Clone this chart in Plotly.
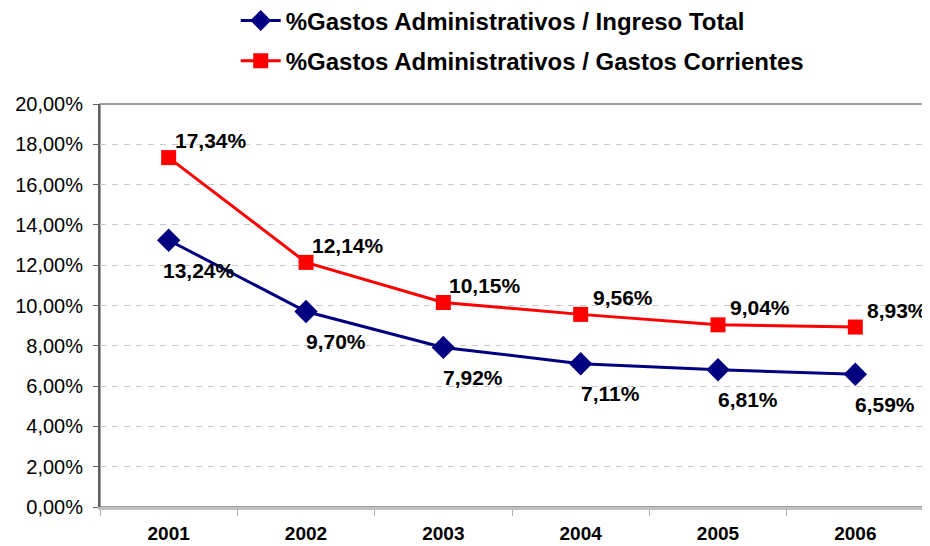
import plotly.graph_objects as go

years = ["2001", "2002", "2003", "2004", "2005", "2006"]
ingreso_total = [13.24, 9.70, 7.92, 7.11, 6.81, 6.59]
gastos_corrientes = [17.34, 12.14, 10.15, 9.56, 9.04, 8.93]
name_blue = "%Gastos Administrativos / Ingreso Total"
name_red = "%Gastos Administrativos / Gastos Corrientes"
y_ticks = [0, 2, 4, 6, 8, 10, 12, 14, 16, 18, 20]
y_tick_labels = ["0,00%", "2,00%", "4,00%", "6,00%", "8,00%", "10,00%",
                 "12,00%", "14,00%", "16,00%", "18,00%", "20,00%"]

FONT = "Liberation Sans, Arial, sans-serif"

def fmt(v):
    return f"{v:.2f}".replace(".", ",") + "%"

fig = go.Figure()
fig.add_trace(go.Scatter(
    x=years, y=ingreso_total, name=name_blue, mode="lines+markers",
    line=dict(color="#000080", width=3),
    marker=dict(symbol="diamond", size=18, color="#000080"),
    legendgroup="a",
))
fig.add_trace(go.Scatter(
    x=years, y=gastos_corrientes, name=name_red, mode="lines+markers",
    line=dict(color="#FF0000", width=3),
    marker=dict(symbol="square", size=15, color="#FF0000"),
    legendgroup="b",
))

label_font = dict(family=FONT, size=21, color="black", weight="bold")
for i, v in enumerate(gastos_corrientes):
    fig.add_annotation(x=i, y=v, text=fmt(v), showarrow=False,
                       xshift=42, yshift=17, font=label_font)
for i, v in enumerate(ingreso_total):
    fig.add_annotation(x=i, y=v, text=fmt(v), showarrow=False,
                       xshift=30, yshift=-30, font=label_font)

# plot frame
fig.add_shape(type="rect", xref="paper", yref="paper", x0=0, y0=0, x1=1, y1=1,
              line=dict(color="#808080", width=1.5), layer="below")

fig.update_layout(
    width=922, height=538,
    margin=dict(l=92, r=6, t=96, b=39, autoexpand=False),
    paper_bgcolor="white", plot_bgcolor="white",
    font=dict(family=FONT, size=19, color="black"),
    showlegend=True,
    legend=dict(
        xref="container", yref="paper",
        x=0.247, y=1.262, xanchor="left", yanchor="top",
        font=dict(family=FONT, size=24, color="black", weight="bold"),
        tracegroupgap=6, bgcolor="rgba(0,0,0,0)",
        itemwidth=40,
    ),
    xaxis=dict(
        type="category", tickson="boundaries",
        ticks="outside", ticklen=6, tickcolor="#b0b0b0",
        showline=True, linecolor="#c0c0c0", linewidth=3,
        showgrid=False, ticklabelstandoff=7,
        tickfont=dict(family=FONT, size=19, color="black", weight="bold"),
        range=[-0.5, 5.5],
    ),
    yaxis=dict(
        range=[0, 20], tickvals=y_ticks, ticktext=y_tick_labels,
        ticks="outside", ticklen=5, tickcolor="#606060",
        showline=True, linecolor="#606060", linewidth=2,
        showgrid=True, gridcolor="#c8c8c8", griddash="6px,6px", gridwidth=1,
        zeroline=False, ticklabelstandoff=6,
        tickfont=dict(family=FONT, size=20, color="black"),
    ),
)

fig.write_html("out.html")
